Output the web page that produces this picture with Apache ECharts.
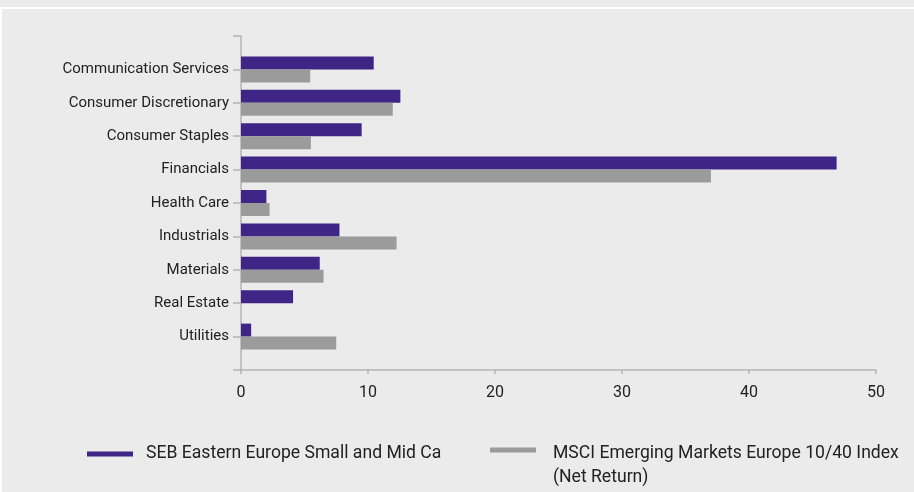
<!DOCTYPE html>
<html>
<head>
<meta charset="utf-8">
<script src="https://cdn.jsdelivr.net/npm/echarts@6/dist/echarts.min.js"></script>
<style>
html,body{margin:0;padding:0;background:#fff;}
#c{width:914px;height:492px;}
</style>
</head>
<body>
<div id="c"></div>
<script>
const categories = ['Communication Services','Consumer Discretionary','Consumer Staples','Financials','Health Care','Industrials','Materials','Real Estate','Utilities'];
const sebValues = [10.45, 12.55, 9.5, 46.9, 2.0, 7.75, 6.2, 4.1, 0.8];
const msciValues = [5.45, 11.95, 5.5, 37.0, 2.25, 12.25, 6.5, 0, 7.5];
const seriesNames = ['SEB Eastern Europe Small and Mid Ca', 'MSCI Emerging Markets Europe 10/40 Index'];
const legendSubtitle = '(Net Return)';
const xTicks = [0, 10, 20, 30, 40, 50];

const FONT = 'Roboto';
const chart = echarts.init(document.getElementById('c'), null, {renderer: 'canvas'});
const pad = arr => [null, ...arr, null];
chart.setOption({
  backgroundColor: '#ebebeb',
  animation: false,
  graphic: [
    {type: 'rect', shape: {x: 0, y: 7, width: 914, height: 2}, style: {fill: '#ffffff'}, silent: true},
    {type: 'rect', shape: {x: 0, y: 9, width: 2, height: 483}, style: {fill: '#ffffff'}, silent: true}
  ],
  grid: {left: 241, right: 38, top: 36, bottom: 122, containLabel: false},
  xAxis: {
    type: 'value', min: xTicks[0], max: xTicks[xTicks.length - 1], interval: 10,
    axisLine: {show: true, lineStyle: {color: '#b4b4b4', width: 1.5}},
    axisTick: {show: true, length: 4, lineStyle: {color: '#b4b4b4', width: 1.5}},
    splitLine: {show: false},
    axisLabel: {color: '#222', fontFamily: FONT, fontSize: 16, margin: 15}
  },
  yAxis: {
    type: 'category', inverse: true, boundaryGap: false,
    data: ['', ...categories, ''],
    axisLine: {show: true, lineStyle: {color: '#b4b4b4', width: 1.5}},
    axisTick: {show: true, length: 8, lineStyle: {color: '#b4b4b4', width: 1.5}},
    axisLabel: {color: '#222', fontFamily: FONT, fontSize: 15, margin: 12}
  },
  legend: [
    {
      data: [seriesNames[0]], left: 87, top: 444, padding: 0, itemWidth: 46, itemHeight: 5,
      icon: 'rect',
      textStyle: {color: '#222', fontFamily: FONT, fontSize: 17.6, lineHeight: 20, padding: [0, 0, 0, 8]}
    },
    {
      data: [seriesNames[1]], left: 490, top: 417, padding: 0, itemWidth: 46, itemHeight: 5,
      icon: 'rect',
      formatter: n => '{b| }\n{t|' + n + '}\n{t|' + legendSubtitle + '}',
      textStyle: {
        color: '#222', fontFamily: FONT, fontSize: 17.6, padding: [0, 0, 0, 12],
        rich: {
          b: {lineHeight: 32, fontSize: 17.6, fontFamily: FONT},
          t: {lineHeight: 24, fontSize: 17.6, fontFamily: FONT, color: '#222'}
        }
      }
    }
  ],
  series: [
    {
      name: seriesNames[0], type: 'bar', data: pad(sebValues), barWidth: 13, barGap: '0%',
      itemStyle: {color: '#3f2585'}
    },
    {
      name: seriesNames[1], type: 'bar', data: pad(msciValues), barWidth: 13, barGap: '0%',
      itemStyle: {color: '#9b9b9b'}
    }
  ]
});
</script>
</body>
</html>
